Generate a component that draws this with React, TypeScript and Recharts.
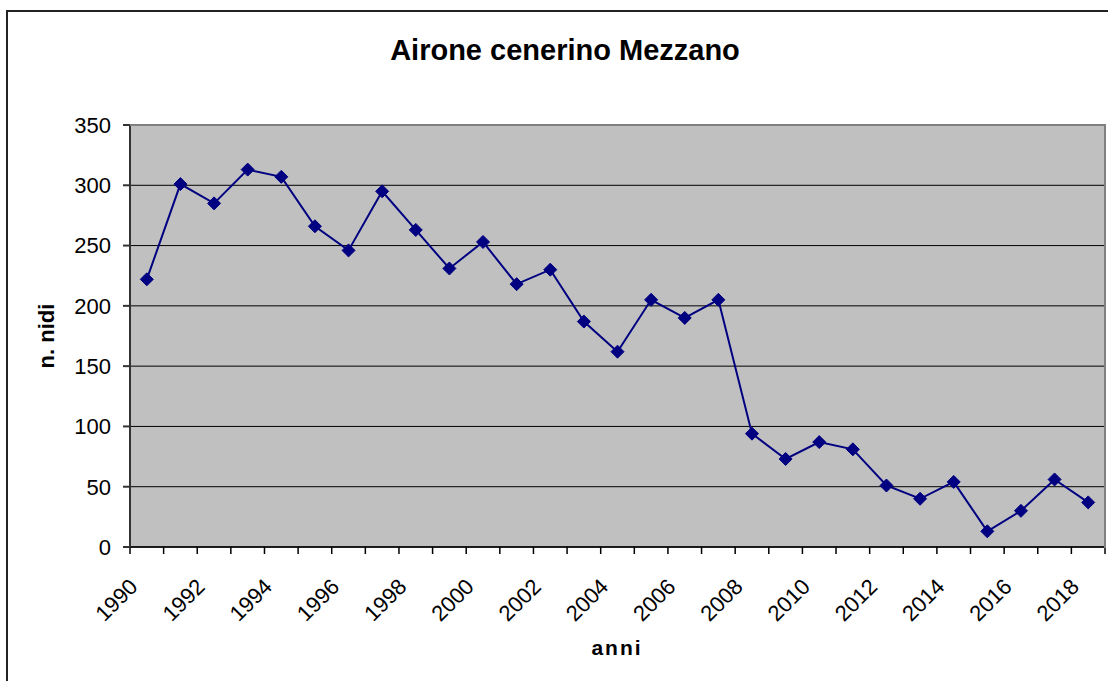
import React from 'react';
import { LineChart, Line, XAxis, YAxis, CartesianGrid } from 'recharts';

const years = [
  1990, 1991, 1992, 1993, 1994, 1995, 1996, 1997, 1998, 1999,
  2000, 2001, 2002, 2003, 2004, 2005, 2006, 2007, 2008, 2009,
  2010, 2011, 2012, 2013, 2014, 2015, 2016, 2017, 2018,
];
const nests = [
  222, 301, 285, 313, 307, 266, 246, 295, 263, 231,
  253, 218, 230, 187, 162, 205, 190, 205, 94, 73,
  87, 81, 51, 40, 54, 13, 30, 56, 37,
];
const yTicks = [0, 50, 100, 150, 200, 250, 300, 350];

const FONT = '"Liberation Sans", Arial, sans-serif';
const NAVY = '#000080';

const data = years.map((y, i) => ({ year: y, nidi: nests[i] }));
// category boundaries: points sit in the middle of each year slot
const xTicks = [...years.map((y) => y - 0.5), years[years.length - 1] + 0.5];

const YearTick = (props: any) => {
  const { x, y, payload } = props;
  const year = payload.value + 0.5;
  if (year % 2 !== 0) return null;
  return (
    <text
      transform={`translate(${x + 9},${y + 32}) rotate(-45)`}
      textAnchor="end"
      fontSize={22}
      fontFamily={FONT}
      fill="#000"
    >
      {year}
    </text>
  );
};

const Diamond = (props: any) => {
  const { cx, cy, index } = props;
  const r = 6.5;
  return (
    <path
      key={`d-${index}`}
      d={`M${cx},${cy - r} L${cx + r},${cy} L${cx},${cy + r} L${cx - r},${cy} Z`}
      fill={NAVY}
      stroke={NAVY}
    />
  );
};

export default function App() {
  return (
    <div
      style={{
        position: 'absolute',
        left: 0,
        top: 0,
        width: 1108,
        height: 681,
        background: '#fff',
        overflow: 'hidden',
        fontFamily: FONT,
      }}
    >
      {/* chart frame */}
      <div
        style={{
          position: 'absolute',
          left: 6,
          top: 10,
          width: 1200,
          height: 800,
          borderLeft: '2px solid #222',
          borderTop: '2px solid #222',
        }}
      />
      <div
        style={{
          position: 'absolute',
          left: 0,
          width: 1130,
          top: 34,
          textAlign: 'center',
          fontSize: 29,
          fontWeight: 'bold',
          color: '#000',
        }}
      >
        Airone cenerino Mezzano
      </div>
      <div
        style={{
          position: 'absolute',
          left: 47,
          top: 336,
          transform: 'translate(-50%, -50%) rotate(-90deg)',
          fontSize: 22,
          fontWeight: 'bold',
          whiteSpace: 'nowrap',
        }}
      >
        n. nidi
      </div>
      <div
        style={{
          position: 'absolute',
          left: 617,
          top: 648,
          transform: 'translate(-50%, -50%)',
          fontSize: 21,
          fontWeight: 'bold',
          letterSpacing: 2,
        }}
      >
        anni
      </div>
      <div style={{ position: 'absolute', left: 0, top: 0 }}>
        <LineChart
          width={1108}
          height={681}
          data={data}
          margin={{ top: 125, right: 3, left: 0, bottom: 0 }}
        >
          <CartesianGrid
            vertical={false}
            stroke="#000"
            strokeWidth={1}
            fill="#c0c0c0"
            fillOpacity={1}
          />
          <XAxis
            dataKey="year"
            type="number"
            domain={[xTicks[0], xTicks[xTicks.length - 1]]}
            ticks={xTicks}
            interval={0}
            height={134}
            tick={<YearTick />}
            tickSize={7}
            stroke="#000"
            strokeWidth={1.5}
            allowDataOverflow
          />
          <YAxis
            type="number"
            domain={[0, 350]}
            ticks={yTicks}
            interval={0}
            width={130}
            tickSize={7}
            tickMargin={12}
            stroke="#333"
            strokeWidth={2}
            tick={{ fill: '#000', fontSize: 22, fontFamily: FONT }}
          />
          <Line
            type="linear"
            dataKey="nidi"
            stroke={NAVY}
            strokeWidth={2}
            dot={<Diamond />}
            isAnimationActive={false}
          />
        </LineChart>
      </div>
      {/* grey plot border on top and right */}
      <div
        style={{
          position: 'absolute',
          left: 130,
          top: 124,
          width: 974,
          height: 422,
          borderTop: '2px solid #808080',
          borderRight: '2px solid #808080',
          pointerEvents: 'none',
        }}
      />
    </div>
  );
}
